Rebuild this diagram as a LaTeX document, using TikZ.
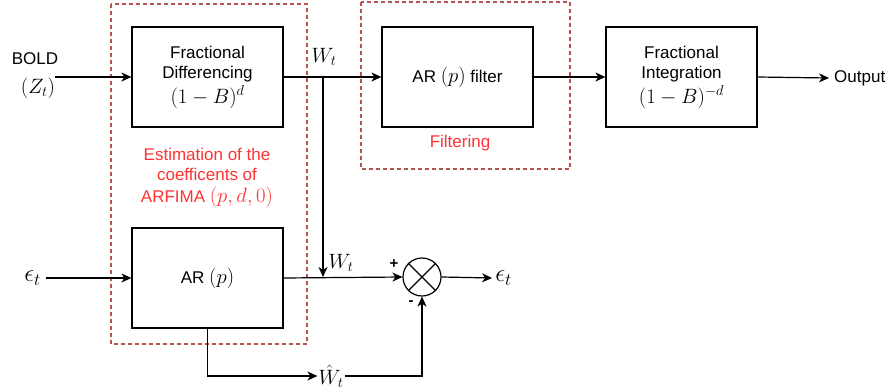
\documentclass[tikz,border=0pt]{standalone}
\usepackage{fontspec}
\setmainfont{Liberation Sans}
\usetikzlibrary{arrows.meta}
\definecolor{dred}{HTML}{B85450}
\definecolor{tred}{HTML}{FF3333}
\newcommand\mth[1]{{\fontsize{20}{22}\selectfont$#1$}}
\newcommand\meps[1]{{\fontsize{26}{28}\selectfont$#1$}}
\begin{document}
\begin{tikzpicture}[x=1pt,y=-1pt,
  blk/.style={draw, line width=1.2pt, minimum width=151pt, minimum height=100pt, align=center, inner sep=0pt, font=\fontsize{17}{20}\selectfont},
  arr/.style={line width=1.2pt, -{Stealth[length=10pt,width=9pt,inset=3pt]}},
  ln/.style={line width=1.2pt},
  lbl/.style={inner sep=1pt, font=\fontsize{17}{20}\selectfont},
  rtxt/.style={inner sep=0pt, align=center, text=tred, font=\fontsize{17}{20}\selectfont},
  grp/.style={draw=dred, line width=1.2pt, dash pattern=on 4pt off 3pt}]
\useasboundingbox (0,0) rectangle (889,391);
% groups
\draw[grp] (111,4) rectangle (307,344);
\draw[grp] (361,2) rectangle (570,169);
% blocks
\node[blk] (fd) at (207.5,77) {Fractional\\Differencing\\[3pt]\mth{(1-B)^d}};
\node[blk] (arf) at (457.5,77) {AR \mth{(p)} filter};
\node[blk] (fi) at (681.5,77) {Fractional\\Integration\\[3pt]\mth{(1-B)^{-d}}};
\node[blk] (ar) at (207.5,278) {AR \mth{(p)}};
\node[draw, circle, line width=1.2pt, minimum size=38pt, inner sep=0pt] (cx) at (422,277) {};
\draw[ln] (cx.north west) -- (cx.south east);
\draw[ln] (cx.north east) -- (cx.south west);
% labels
\node[lbl] (bold) at (35,59) {BOLD};
\node[lbl] (zt) at (38,88) {\mth{(Z_t)}};
\coordinate (in) at (55,77);
\node[lbl, anchor=west, inner sep=0pt] (out) at (834,78) {Output};
\node[lbl, inner sep=0pt] (wt1) at (324,57) {\mth{W_t}};
\node[lbl, inner sep=0pt] (wt2) at (341,263) {\mth{W_t}};
\node[lbl] (wh) at (331,376) {\mth{\hat{W}_t}};
\node[lbl, inner sep=0pt] (ein) at (32.5,278) {\meps{\epsilon_t}};
\node[lbl, inner sep=0pt] (eout) at (503.5,278) {\meps{\epsilon_t}};
\node[lbl, font=\fontsize{15}{16}\selectfont\bfseries] (plus) at (394,264) {+};
\node[lbl, font=\fontsize{15}{16}\selectfont\bfseries] (minus) at (411,303) {-};
\node[rtxt] (est) at (207,178) {Estimation of the\\coefficents of\\[2pt]ARFIMA \mth{(p,d,0)}};
\node[rtxt] (filt) at (460,143) {Filtering};
% connectors
\coordinate (j1) at (323,77);
\coordinate (j2) at (323,277);
\draw[arr] (in) -- (fd.west);
\draw[arr] (fd.east) -- (arf.west);
\draw[arr] (arf.east) -- (fi.west);
\draw[arr] (fi.east) -- ([xshift=-5pt]out.west);
\draw[arr] (j1) -- (j2);
\draw[arr] ([xshift=5pt]ein.east) -- (ar.west);
\draw[arr] (ar.east) -- (cx.west);
\draw[arr] (cx.east) -- ([xshift=-3pt]eout.west);
\draw[arr] (ar.south) |- (wh.west);
\draw[arr] (wh.east) -| (cx.south);
\end{tikzpicture}
\end{document}
